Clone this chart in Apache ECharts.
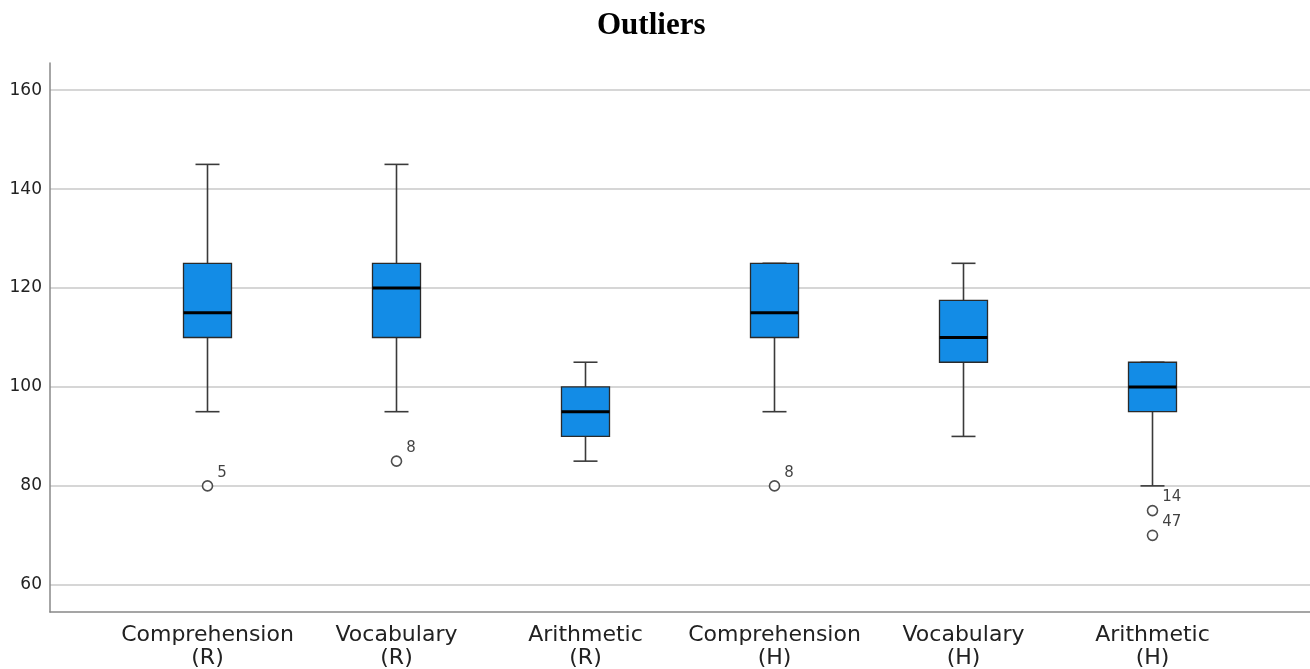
<!DOCTYPE html>
<html>
<head>
<meta charset="utf-8">
<script src="https://cdn.jsdelivr.net/npm/echarts@6/dist/echarts.min.js"></script>
<style>
html,body{margin:0;padding:0;background:#fff;}
#chart{width:1310px;height:669px;}
</style>
</head>
<body>
<div id="chart"></div>
<script>
// ---- data ----
const categories = ['Comprehension\n(R)', 'Vocabulary\n(R)', 'Arithmetic\n(R)', 'Comprehension\n(H)', 'Vocabulary\n(H)', 'Arithmetic\n(H)'];
const positions = [1, 2, 3, 4, 5, 6];
const whiskerMin = [95, 95, 85, 95, 90, 80];
const quartile1 = [110, 110, 90, 110, 105, 95];
const medians = [115, 120, 95, 115, 110, 100];
const quartile3 = [125, 125, 100, 125, 117.5, 105];
const whiskerMax = [145, 145, 105, 125, 125, 105];
const outlierPos = [1, 2, 4, 6, 6];
const outlierVal = [80, 85, 80, 75, 70];
const outlierId = ['5', '8', '8', '14', '47'];
const yTicks = [60, 80, 100, 120, 140, 160];

const boxData = positions.map((p, i) => [p, whiskerMin[i], quartile1[i], medians[i], quartile3[i], whiskerMax[i]]);
const outData = outlierPos.map((p, i) => [p, outlierVal[i], outlierId[i]]);

const BOX_W = 0.254; // in x units
function renderBox(params, api) {
  const x = api.value(0);
  const mn = api.coord([x, api.value(1)]);
  const q1 = api.coord([x, api.value(2)]);
  const md = api.coord([x, api.value(3)]);
  const q3 = api.coord([x, api.value(4)]);
  const mx = api.coord([x, api.value(5)]);
  const w = api.size([BOX_W, 0])[0];
  const cx = mn[0];
  const half = w / 2, capHalf = w / 4;
  const wStyle = {stroke: '#3a3a3a', lineWidth: 1.6, fill: null};
  return {
    type: 'group',
    children: [
      {type: 'line', shape: {x1: cx, y1: q3[1], x2: cx, y2: mx[1]}, style: wStyle},
      {type: 'line', shape: {x1: cx, y1: q1[1], x2: cx, y2: mn[1]}, style: wStyle},
      {type: 'line', shape: {x1: cx - capHalf, y1: mx[1], x2: cx + capHalf, y2: mx[1]}, style: wStyle},
      {type: 'line', shape: {x1: cx - capHalf, y1: mn[1], x2: cx + capHalf, y2: mn[1]}, style: wStyle},
      {type: 'rect', shape: {x: cx - half, y: q3[1], width: w, height: q1[1] - q3[1]},
        style: {fill: '#138ce6', stroke: '#2a2a2a', lineWidth: 1.3}},
      {type: 'line', shape: {x1: cx - half, y1: md[1], x2: cx + half, y2: md[1]},
        style: {stroke: '#000', lineWidth: 3}}
    ]
  };
}

const chart = echarts.init(document.getElementById('chart'), null, {renderer: 'canvas'});
chart.setOption({
  animation: false,
  backgroundColor: '#fff',
  title: {
    text: 'Outliers', left: 592, top: 5,
    textStyle: {fontFamily: 'Liberation Serif', fontWeight: 'bold', fontSize: 31, color: '#000'}
  },
  grid: {left: 50, right: 0, top: 63, bottom: 57, containLabel: false, outerBoundsMode: 'none'},
  xAxis: {
    type: 'value', min: 1 / 6, max: 41 / 6,
    axisLine: {onZero: false, lineStyle: {color: '#888', width: 1.5}},
    axisTick: {show: false, customValues: positions},
    splitLine: {show: false},
    axisLabel: {
      customValues: positions,
      formatter: v => categories[Math.round(v) - 1],
      fontFamily: 'DejaVu Sans', fontSize: 22, color: '#222', lineHeight: 23, margin: 12
    }
  },
  yAxis: {
    type: 'value', min: 54.5, max: 165.5,
    axisLine: {show: true, onZero: false, lineStyle: {color: '#888', width: 1.5}},
    axisTick: {show: false, customValues: yTicks},
    axisLabel: {customValues: yTicks, fontFamily: 'DejaVu Sans', fontSize: 17, color: '#222', margin: 8},
    splitLine: {show: true, lineStyle: {color: '#c8c8c8', width: 1.5}}
  },
  series: [
    {type: 'custom', data: boxData, renderItem: renderBox, encode: {x: 0, y: [1, 2, 3, 4, 5]}, z: 3},
    {
      type: 'scatter', data: outData, symbol: 'circle', symbolSize: 10, z: 4,
      itemStyle: {color: '#fff', borderColor: '#222', borderWidth: 1.6},
      label: {
        show: true, position: 'right', distance: 4, offset: [0, -13],
        formatter: p => p.value[2], fontFamily: 'DejaVu Sans', fontSize: 15, color: '#111'
      }
    }
  ]
});
</script>
</body>
</html>
